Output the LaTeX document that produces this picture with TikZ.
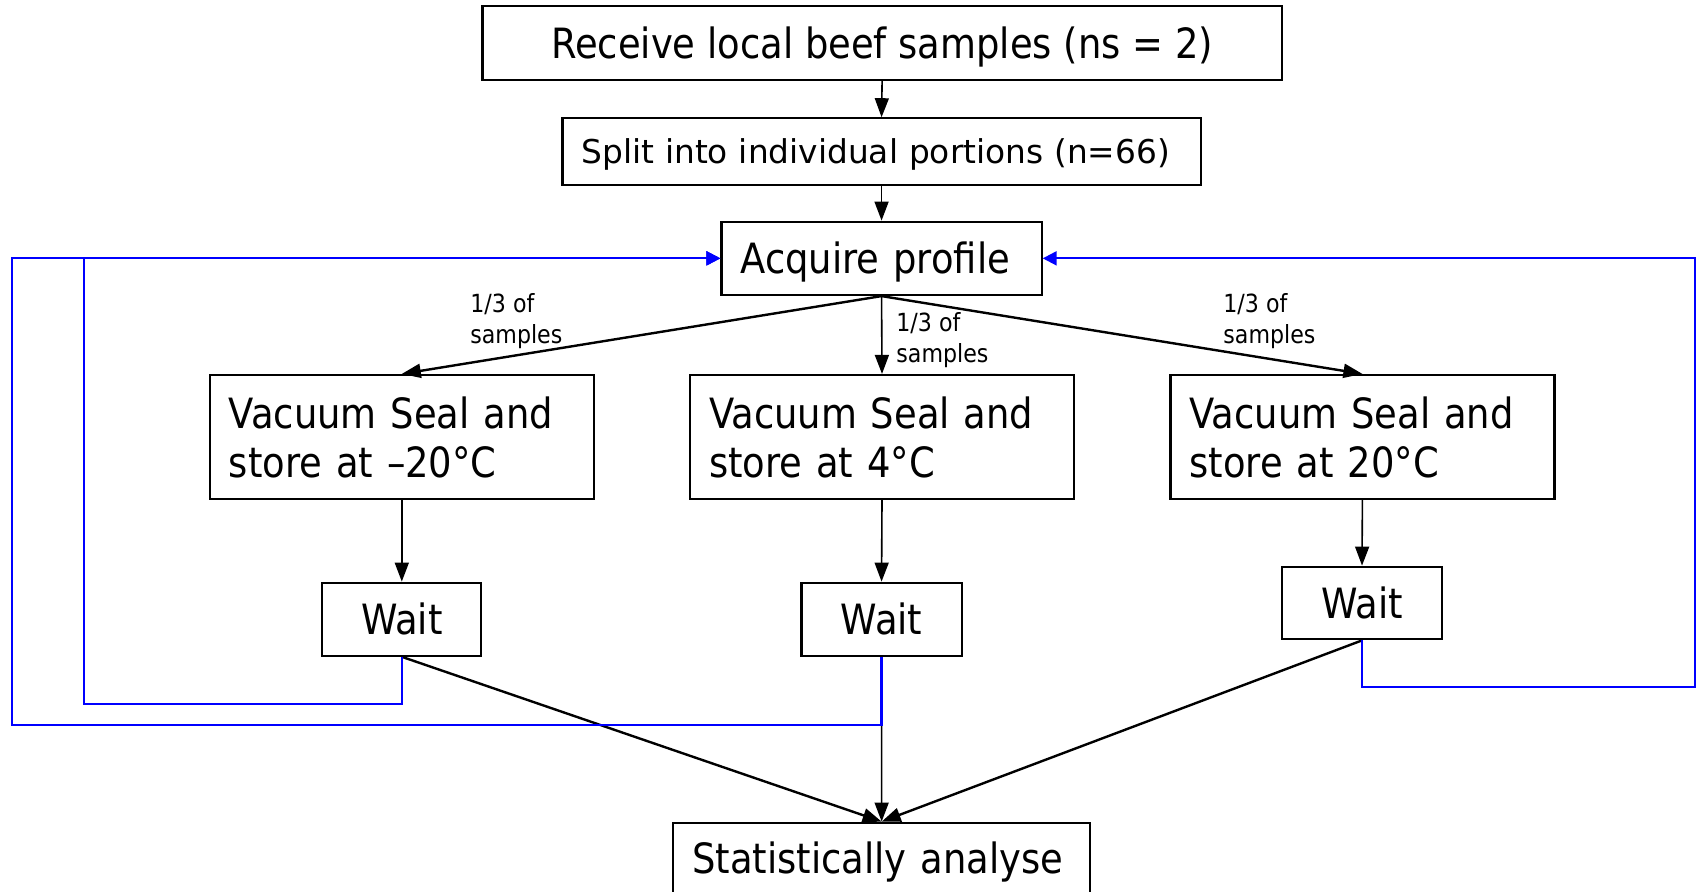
\documentclass[tikz,border=0pt]{standalone}
\usepackage{fontspec}
\setmainfont{DejaVu Sans}[FakeStretch=0.885]
\newfontfamily\splitfont{DejaVu Sans}
\usetikzlibrary{arrows.meta}
\begin{document}
\begin{tikzpicture}[x=0.5pt,y=-0.5pt,
  box/.style={draw=black, line width=1.1pt, inner sep=0pt, fill=white},
  big/.style={font=\fontsize{20.85}{24.5}\selectfont},
  one/.style={text height=15.2pt, text depth=0pt},
  leftin/.style={inner xsep=9.5pt, inner ysep=0pt, align=left},
  flow/.style={-{Triangle[length=9.5pt,width=7pt]}, line width=0.8pt},
  flowthick/.style={-{Triangle[length=9.5pt,width=7pt]}, line width=1.2pt},
  loop/.style={draw=blue, line width=1.1pt, -{Triangle[length=7pt,width=7pt]}},
  lbl/.style={font=\fontsize{12.5}{15.8}\selectfont, align=left, inner sep=0pt, anchor=north west}]
\useasboundingbox (0,0) rectangle (1696,892);

% boxes
\node[box, big, one, minimum width=399.7pt, minimum height=36.85pt] (recv) at (882.1,43.15) {Receive local beef samples (ns = 2)};
\node[box, leftin, font=\splitfont\fontsize{16.4}{19}\selectfont, text width=300.05pt, text height=12pt, text depth=0pt, minimum height=33.35pt] (split) at (881.55,151.65) {Split into individual portions (n=66)};
\node[box, big, one, leftin, text width=141.05pt, minimum height=36.65pt] (acq) at (881.55,258.35) {Acquire profile};

\node[box, big, leftin, text width=173pt, minimum height=62pt] (vacL) at (401.8,437) {Vacuum Seal and\\store at –20°C};
\node[box, big, leftin, text width=173pt, minimum height=62pt] (vacM) at (882,437) {Vacuum Seal and\\store at 4°C};
\node[box, big, leftin, text width=173pt, minimum height=62pt] (vacR) at (1362.4,437) {Vacuum Seal and\\store at 20°C};

\node[box, big, one, minimum width=79.5pt, minimum height=36.5pt] (waitL) at (401.8,619.2) {Wait};
\node[box, big, one, minimum width=80.05pt, minimum height=36.5pt] (waitM) at (881.55,619.2) {Wait};
\node[box, big, one, minimum width=80.3pt, minimum height=36.3pt] (waitR) at (1362,603) {Wait};

\node[box, big, one, leftin, text width=189.35pt, minimum height=35.8pt] (stat) at (881.65,858.5) {Statistically analyse};

% labels
\node[lbl] (lblL) at (470,292.7) {1/3 of\\samples};
\node[lbl] (lblM) at (896,311.7) {1/3 of\\samples};
\node[lbl] (lblR) at (1223,292.7) {1/3 of\\samples};

% black connectors
\draw[flow] (recv.south) -- (split.north);
\draw[flow] (split.south) -- (acq.north);
\draw[flowthick] (acq.south) -- (vacL.north);
\draw[flow] (acq.south) -- (vacM.north);
\draw[flowthick] (acq.south) -- (vacR.north);
\draw[flow] (vacL.south) -- (waitL.north);
\draw[flow] (vacM.south) -- (waitM.north);
\draw[flow] (vacR.south) -- (waitR.north);
\draw[flowthick] (waitL.south) -- (stat.north);
\draw[flow] (waitM.south) -- (stat.north);
\draw[flowthick] (waitR.south) -- (stat.north);

% blue feedback loops
\coordinate (bl1) at (84.3,703.7);
\coordinate (bl2) at (12.3,725.3);
\coordinate (br) at (1694.8,686.7);
\draw[loop] (waitM.south) |- (bl2) |- (acq.west);
\draw[loop] (waitL.south) |- (bl1) |- (acq.west);
\draw[loop] (waitR.south) |- (br) |- (acq.east);
\end{tikzpicture}
\end{document}
